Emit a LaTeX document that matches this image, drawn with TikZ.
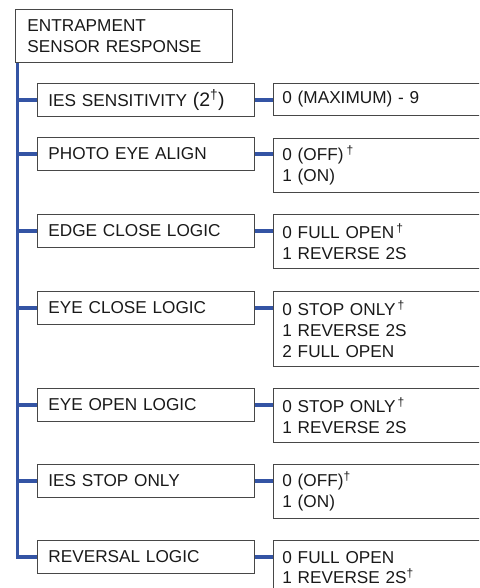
\documentclass[tikz,border=0pt]{standalone}
\usepackage{fontspec}
\setmainfont{Liberation Sans}
\definecolor{trunkblue}{RGB}{52,84,164}
\newcommand{\dg}{\kern2pt\textsuperscript{†}}
\begin{document}
\begin{tikzpicture}[x=1pt,y=-1pt,
  box/.style={draw=black!72, line width=0.9pt, anchor=north west, inner ysep=0pt,
    align=left, font=\fontsize{17.2}{20.7}\selectfont, text=black!90},
  topbox/.style={box, inner xsep=12pt, text width=193pt, minimum height=53pt},
  leftbox/.style={box, inner xsep=11pt, text width=195pt, minimum height=33pt},
  rightbox/.style={box, inner xsep=9pt, text width=199pt},
  link/.style={draw=trunkblue, line width=3.6pt}]
\useasboundingbox (0,0) rectangle (479,588);
\clip (0,0) rectangle (479,588);

\node[topbox] (top) at (15,9) {ENTRAPMENT\\SENSOR RESPONSE};

\node[leftbox] (l1) at (37,83)  {IES SENSITIVITY {\fontsize{19.5}{20}\selectfont(2\textsuperscript{†})}};
\node[leftbox] (l2) at (37,137) {PHOTO EYE ALIGN};
\node[leftbox] (l3) at (37,214) {EDGE CLOSE LOGIC};
\node[leftbox] (l4) at (37,291) {EYE CLOSE LOGIC};
\node[leftbox] (l5) at (37,388) {EYE OPEN LOGIC};
\node[leftbox] (l6) at (37,464) {IES STOP ONLY};
\node[leftbox] (l7) at (37,540) {REVERSAL LOGIC};

\node[rightbox, minimum height=32pt] (r1) at (273,83)  {0 (MAXIMUM) - 9};
\node[rightbox, minimum height=54pt] (r2) at (273,138) {0 (OFF)\kern3pt\textsuperscript{†}\\1 (ON)};
\node[rightbox, minimum height=54pt] (r3) at (273,214) {0 FULL OPEN\dg\\1 REVERSE 2S};
\node[rightbox, minimum height=75pt] (r4) at (273,291) {0 STOP ONLY\dg\\1 REVERSE 2S\\2 FULL OPEN};
\node[rightbox, minimum height=54pt] (r5) at (273,388) {0 STOP ONLY\dg\\1 REVERSE 2S};
\node[rightbox, minimum height=54pt] (r6) at (273,464) {0 (OFF)\textsuperscript{†}\\1 (ON)};
\node[rightbox, minimum height=54pt] (r7) at (273,540) {0 FULL OPEN\\1 REVERSE 2S\textsuperscript{†}};

\coordinate (trunk) at ([xshift=2.5pt]top.south west);
\draw[link, line join=miter] (trunk) -- (trunk |- l7.west) -- (l7.west);
\foreach \i in {1,...,6} {
  \draw[link] (trunk |- l\i.west) -- (l\i.west);
}
\foreach \i in {1,...,7} {
  \draw[link] (l\i.east) -- (r\i.west |- l\i.east);
}
\end{tikzpicture}
\end{document}
